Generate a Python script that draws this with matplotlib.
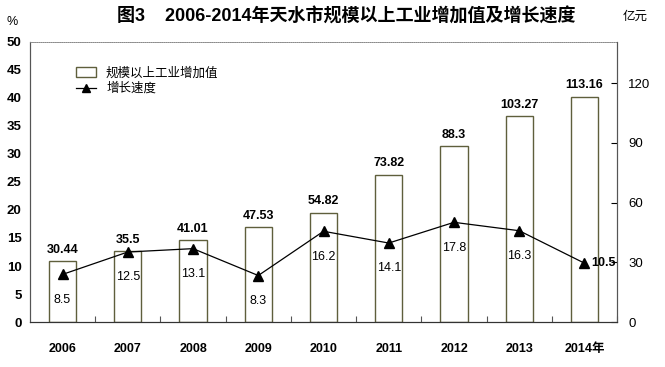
import numpy as np
import matplotlib
matplotlib.use("Agg")
from matplotlib import pyplot as plt
from matplotlib.lines import Line2D
from matplotlib.patches import Patch

plt.rcParams['font.family'] = ['Liberation Sans', 'Noto Sans CJK SC']

years = ["2006", "2007", "2008", "2009", "2010", "2011", "2012", "2013", "2014年"]
value = [30.44, 35.5, 41.01, 47.53, 54.82, 73.82, 88.3, 103.27, 113.16]  # 亿元
growth = [8.5, 12.5, 13.1, 8.3, 16.2, 14.1, 17.8, 16.3, 10.5]  # %

edge = "#5f5f3c"
x = np.arange(len(years))

fig = plt.figure(figsize=(6.65, 3.67), dpi=100)
ax = fig.add_axes([0.045, 0.1226, 0.883, 0.763])
ax2 = ax.twinx()

# bars on right axis
ax2.bar(x, value, width=0.42, facecolor="white", edgecolor=edge, linewidth=1.0, zorder=2)
for xi, v in zip(x, value):
    ax2.annotate(f"{v:g}", (xi, v), xytext=(0, 4), textcoords="offset points",
                 ha="center", va="bottom", fontsize=9, fontweight="bold")
ax2.set_ylim(0, 140.6)
ax2.set_yticks([0, 30, 60, 90, 120])
ax2.tick_params(axis="y", direction="in", length=4, labelsize=9.5, pad=8)

# line on left axis, drawn above bars
ax.set_zorder(ax2.get_zorder() + 1)
ax.patch.set_visible(False)
ax.plot(x, growth, color="black", linewidth=0.9, marker="^", markersize=7, zorder=3)
for i, (xi, g) in enumerate(zip(x, growth)):
    if i == len(x) - 1:
        ax.annotate(f"{g:g}", (xi, g), xytext=(5, 0), textcoords="offset points",
                    ha="left", va="center", fontsize=9, fontweight="bold")
    else:
        ax.annotate(f"{g:g}", (xi, g), xytext=(0, -14), textcoords="offset points",
                    ha="center", va="top", fontsize=9)
ax.set_ylim(0, 50)
ax.set_yticks(np.arange(0, 51, 5))
ax.tick_params(axis="y", length=0, labelsize=9.5, pad=6)
for lab in ax.get_yticklabels():
    lab.set_fontweight("bold")

ax.set_xlim(-0.5, 8.5)
ax.set_xticks(x + 0.5)
ax.set_xticklabels([])
ax.tick_params(axis="x", direction="in", length=4, color="#555555")
for xi, yl in zip(x, years):
    ax.text(xi, -0.075, yl, transform=ax.get_xaxis_transform(), ha="center", va="top",
            fontsize=9, fontweight="bold")
ax2.set_xlim(-0.5, 8.5)

for a in (ax, ax2):
    a.spines["top"].set_linestyle((0, (1, 1.5)))
    a.spines["top"].set_color("#888888")
    a.spines["top"].set_linewidth(0.6)
    a.spines["left"].set_color("#555555")
    a.spines["right"].set_color("#555555")
    a.spines["bottom"].set_color("#333333")

handles = [Patch(facecolor="white", edgecolor=edge, linewidth=1.0),
           Line2D([0], [0], color="black", linewidth=0.9, marker="^", markersize=6)]
ax.legend(handles, ["规模以上工业增加值", "增长速度"], loc="upper left",
          bbox_to_anchor=(0.07, 0.93), frameon=False,
          handlelength=1.6, handleheight=0.8, labelspacing=0.2, borderaxespad=0,
          prop={'family': ['Noto Sans CJK SC'], 'size': 9})

fig.text(0.52, 0.955, "图3    2006-2014年天水市规模以上工业增加值及增长速度",
         ha="center", va="center", fontsize=13, fontweight="bold")
fig.text(0.018, 0.94, "%", ha="center", va="center", fontsize=9)
fig.text(0.955, 0.955, "亿元", ha="center", va="center", fontsize=9,
         family=['Noto Sans CJK SC'])

fig.savefig("out.png", dpi=100)
